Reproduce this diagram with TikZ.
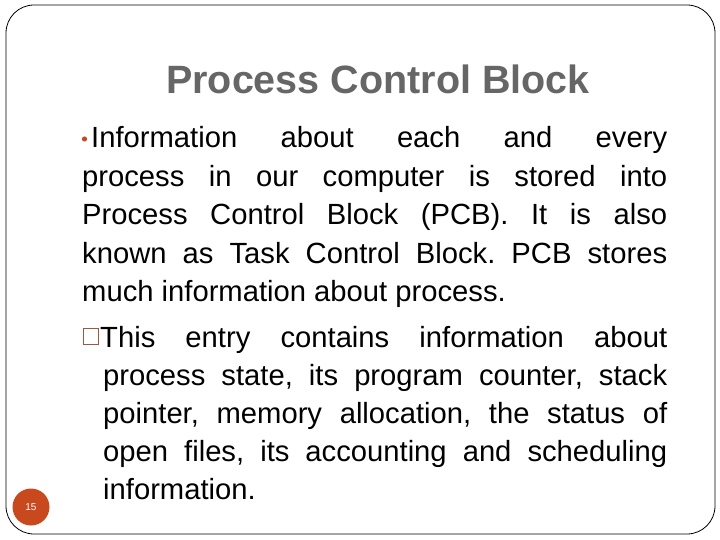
\documentclass[tikz,border=0pt]{standalone}
\usepackage{fontspec}
\setmainfont{Liberation Sans}
\definecolor{accent}{HTML}{C9491E}
\definecolor{boxc}{HTML}{A0583A}
\definecolor{titlec}{HTML}{666666}
\tikzset{ln/.style={anchor=base west,inner sep=0pt,font=\fontsize{29.2}{32}\selectfont}}
\newcommand{\jl}[2]{\makebox[#1][s]{#2}}
\begin{document}
\frenchspacing
\begin{tikzpicture}[x=1pt,y=-1pt]
\useasboundingbox (0,0) rectangle (720,540);
\draw[black,line width=0.8pt,rounded corners=28pt] (6,5) rectangle (715,534);
\node[anchor=base,inner sep=0pt,text=titlec,font=\fontsize{39.5}{44}\selectfont\bfseries] (title) at (378,94) {Process Control Block};
\fill[accent] (84.5,139) circle (2.6) node (dot) {};
\node[ln] (l1) at (91,148) {\jl{576pt}{Information about each and every}};
\node[ln] (l2) at (82,187) {\jl{585pt}{process in our computer is stored into}};
\node[ln] (l3) at (82,225) {\jl{585pt}{Process Control Block (PCB). It is also}};
\node[ln] (l4) at (82,263) {\jl{585pt}{known as Task Control Block. PCB stores}};
\node[ln] (l5) at (82,301) {much information about process.};
\draw[boxc,line width=1pt] (83,328) rectangle (98,344);
\node[ln] (l6) at (100,347) {\jl{567pt}{This entry contains information about}};
\node[ln] (l7) at (103,385) {\jl{564pt}{process state, its program counter, stack}};
\node[ln] (l8) at (103,423) {\jl{564pt}{pointer, memory allocation, the status of}};
\node[ln] (l9) at (103,461) {\jl{564pt}{open files, its accounting and scheduling}};
\node[ln] (l10) at (103,499) {information.};
\fill[accent] (31,507) circle (18.5);
\node[text=white,font=\fontsize{10}{12}\selectfont] (pg) at (31,507) {15};
\end{tikzpicture}
\end{document}
